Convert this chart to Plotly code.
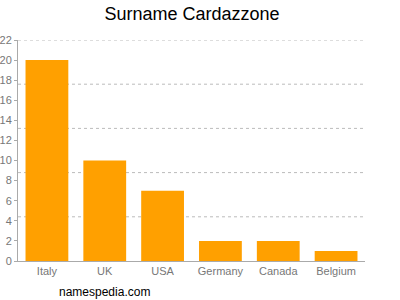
import plotly.graph_objects as go

countries = ["Italy", "UK", "USA", "Germany", "Canada", "Belgium"]
counts = [20, 10, 7, 2, 2, 1]
grid_levels = [4.4, 8.8, 13.2, 17.6, 22]

fig = go.Figure()
fig.add_trace(go.Bar(x=countries, y=counts, marker_color="#FFA000",
                     marker_line_width=0, hoverinfo="skip"))

for lv in grid_levels:
    fig.add_shape(type="line", xref="paper", yref="y", x0=0, x1=1, y0=lv, y1=lv,
                  line=dict(color="#bbbbbb", width=1, dash="3px,3px"), layer="below")

fig.update_layout(
    width=400, height=300,
    margin=dict(l=18, r=35, t=40, b=39),
    paper_bgcolor="white", plot_bgcolor="white",
    showlegend=False, bargap=0.26,
    font=dict(family="Liberation Sans, Arial, sans-serif", color="#777777", size=11),
    title=dict(text="Surname Cardazzone", x=0.48, xanchor="center", y=0.955, yanchor="middle",
               font=dict(size=18, color="#000000")),
    xaxis=dict(showline=True, linecolor="#aaaaaa", linewidth=1, ticks="", showgrid=False,
               automargin=False, tickfont=dict(size=11, color="#777777")),
    yaxis=dict(range=[0, 22], dtick=2, showline=True, linecolor="#aaaaaa", linewidth=1,
               ticks="outside", ticklen=3, tickcolor="#aaaaaa", showgrid=False,
               ticklabelstandoff=0,
               automargin=False, zeroline=False, tickfont=dict(size=11, color="#777777")),
)
fig.add_annotation(text="namespedia.com", xref="paper", yref="paper", x=0.25, y=-0.14,
                   xanchor="center", yanchor="middle", showarrow=False,
                   font=dict(size=12, color="#000000"))
fig.write_html("out.html")
